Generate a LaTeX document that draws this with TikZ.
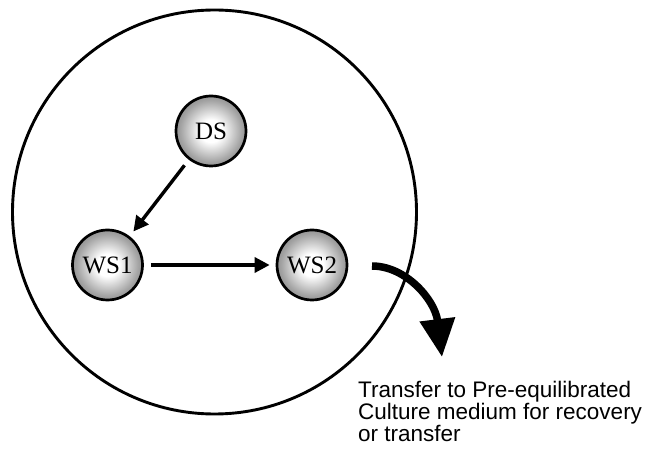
\documentclass[tikz,border=0pt]{standalone}
\usepackage{fontspec}
\setmainfont{Liberation Serif}
\newfontfamily\arialf{Liberation Sans}
\usetikzlibrary{arrows.meta}
\pgfdeclareradialshading{spherebw}{\pgfpoint{0bp}{0bp}}{%
  color(0bp)=(white); color(8bp)=(white); color(22bp)=(black!36); color(38bp)=(black!66); color(50bp)=(black!82)}
\tikzset{
  sphere/.style={circle, minimum size=70pt, inner sep=0pt, draw=black, line width=2.7pt,
    shading=spherebw, font=\fontsize{25}{30}\selectfont},
  conn/.style={line width=3.4pt, -{Triangle[length=15pt,width=15pt]}, shorten <=7pt, shorten >=6pt},
  bigarrow/.style={line width=7.5pt, -{Triangle[length=38pt,width=34pt]}},
  note/.style={font=\arialf\fontsize{22.5}{22}\selectfont, align=left, inner sep=0pt}
}
\begin{document}
\begin{tikzpicture}[x=1pt,y=-1pt]
\useasboundingbox (0,0) rectangle (659,462);
\node[draw=black, line width=2.9pt, circle, minimum size=404pt, inner sep=0pt] (dish) at (214.5,212) {};
\node[sphere] (DS) at (211,131) {DS};
\node[sphere] (WS1) at (107.5,265) {WS1};
\node[sphere] (WS2) at (312,265) {WS2};
\draw[conn] (DS) -- (WS1);
\draw[conn] (WS1) -- (WS2);
\coordinate (out) at (372,266);
\coordinate (drop) at (442,357);
\draw[bigarrow] (out) .. controls (406,266) and (435,300) .. (drop);
\node[note, anchor=base west] (txt) at (358,442) {Transfer to Pre-equilibrated\\Culture medium for recovery\\or transfer};
\end{tikzpicture}
\end{document}
